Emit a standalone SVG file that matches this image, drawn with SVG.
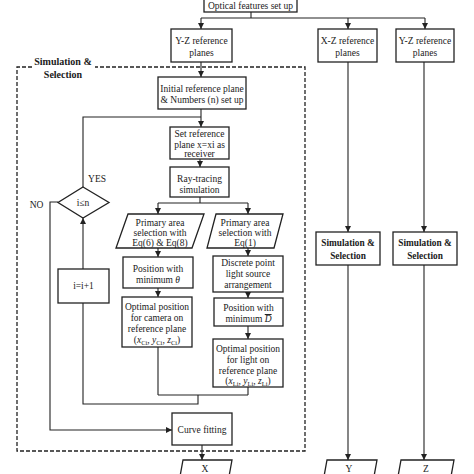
<svg xmlns="http://www.w3.org/2000/svg" width="474" height="474" viewBox="0 0 474 474">
<defs>
<marker id="ah" viewBox="0 0 10 10" refX="10" refY="5" markerWidth="6" markerHeight="6" markerUnits="userSpaceOnUse" orient="auto">
<path d="M0,0 L10,5 L0,10 Z" fill="#222"/>
</marker>
<style>
.b{fill:#fff;stroke:#222;stroke-width:1.3}
.t{font-family:"Liberation Serif","Times New Roman",serif;font-size:9.5px;fill:#1a1a1a;text-anchor:middle}
.bt{font-family:"Liberation Serif","Times New Roman",serif;font-size:10px;font-weight:bold;fill:#1a1a1a;text-anchor:middle}
.bs{font-size:9.3px}
.c{fill:none;stroke:#222;stroke-width:1.1}
.a{marker-end:url(#ah)}
.s{font-size:6.5px}
.i{font-style:italic}
</style>
</defs>
<rect width="474" height="474" fill="#fff"/>
<g id="sim-frame">
<path d="M32,67 H17 V451 H305 V67 H95" fill="none" stroke="#222" stroke-width="1.3" stroke-dasharray="4 2"/>
<text class="bt" x="63" y="65">Simulation &amp;</text>
<text class="bt" x="63" y="78">Selection</text>
</g>
<g id="connectors">
<path class="c" d="M251,12 V18 M201,18 H425"/>
<path class="c a" d="M201,18 V29"/>
<path class="c a" d="M348,18 V29"/>
<path class="c a" d="M425,18 V29"/>
<path class="c a" d="M201,62 V77"/>
<path class="c a" d="M201,109 V127"/>
<path class="c" d="M83,187 V117 H201"/>
<path class="c a" d="M200,159 V167"/>
<path class="c" d="M200,197 V203 M158,203 H248"/>
<path class="c a" d="M158,203 V214"/>
<path class="c a" d="M248,203 V214"/>
<path class="c a" d="M158,248 V257"/>
<path class="c a" d="M158,288 V297"/>
<path class="c a" d="M248,248 V256"/>
<path class="c a" d="M248,292 V298"/>
<path class="c a" d="M248,326 V339"/>
<path class="c" d="M158,347 V395 M248,387 V395 M158,395 H248 M198,395 V404 H83 V303"/>
<path class="c a" d="M83,269 V218"/>
<path class="c a" d="M58,202 H50 V430 H172"/>
<path class="c a" d="M202,445 V460"/>
<path class="c a" d="M348,62 V232"/>
<path class="c a" d="M424,62 V232"/>
<path class="c a" d="M348,265 V460"/>
<path class="c a" d="M424,265 V460"/>
</g>
<g id="optical">
<rect class="b" x="204" y="-3" width="93" height="15"/>
<text class="t" x="250.5" y="8.5">Optical features set up</text>
</g>
<g id="yz-left">
<rect class="b" x="171" y="29" width="61" height="33"/>
<text class="t" x="201.5" y="44">Y-Z reference</text>
<text class="t" x="201.5" y="55.5">planes</text>
</g>
<g id="xz">
<rect class="b" x="318" y="29" width="59" height="33"/>
<text class="t" x="347.5" y="44">X-Z reference</text>
<text class="t" x="347.5" y="55.5">planes</text>
</g>
<g id="yz-right">
<rect class="b" x="396" y="29" width="58" height="33"/>
<text class="t" x="425" y="44">Y-Z reference</text>
<text class="t" x="425" y="55.5">planes</text>
</g>
<g id="initial">
<rect class="b" x="158" y="77" width="88" height="32"/>
<text class="t" x="202" y="91.5">Initial reference plane</text>
<text class="t" x="202" y="102.5">&amp; Numbers (n) set up</text>
</g>
<g id="setref">
<rect class="b" x="170" y="127" width="59" height="32"/>
<text class="t" x="199.5" y="137">Set  reference</text>
<text class="t" x="199.5" y="147.5">plane x=xi as</text>
<text class="t" x="199.5" y="156.5">receiver</text>
</g>
<g id="raytrace">
<rect class="b" x="170" y="167" width="59" height="30"/>
<text class="t" x="199.5" y="182">Ray-tracing</text>
<text class="t" x="199.5" y="193">simulation</text>
</g>
<g id="primary-left">
<path class="b" d="M128,214 H204 L192,248 H116 Z"/>
<text class="t" x="160" y="225.5">Primary area</text>
<text class="t" x="160" y="236">selection  with</text>
<text class="t" x="160" y="245.5">Eq(6) &amp; Eq(8)</text>
</g>
<g id="primary-right">
<path class="b" d="M216,214 H283 L274,248 H207 Z"/>
<text class="t" x="245" y="225.5">Primary area</text>
<text class="t" x="245" y="236">selection  with</text>
<text class="t" x="245" y="245.5">Eq(1)</text>
</g>
<g id="min-theta">
<rect class="b" x="123" y="257" width="70" height="31"/>
<text class="t" x="158" y="271.5">Position with</text>
<text class="t" x="158" y="282.5">minimum <tspan class="i">θ</tspan></text>
</g>
<g id="discrete">
<rect class="b" x="213" y="256" width="70" height="36"/>
<text class="t" x="248" y="265.5">Discrete point</text>
<text class="t" x="248" y="277">light source</text>
<text class="t" x="248" y="288">arrangement</text>
</g>
<g id="min-d">
<rect class="b" x="214" y="298" width="69" height="28"/>
<text class="t" x="248.5" y="310.5">Position with</text>
<text class="t" x="248.5" y="322">minimum  <tspan class="i" text-decoration="overline">D</tspan></text>
</g>
<g id="opt-camera">
<rect class="b" x="122" y="297" width="70" height="50"/>
<text class="t" x="157" y="309.5">Optimal position</text>
<text class="t" x="157" y="320.5">for camera on</text>
<text class="t" x="157" y="331.5">reference plane</text>
<text class="t" x="157" y="343">(<tspan class="i">x</tspan><tspan class="s" dy="1.5">Ci</tspan><tspan dy="-1.5">, </tspan><tspan class="i">y</tspan><tspan class="s" dy="1.5">Ci</tspan><tspan dy="-1.5">, </tspan><tspan class="i">z</tspan><tspan class="s" dy="1.5">Ci</tspan><tspan dy="-1.5">)</tspan></text>
</g>
<g id="opt-light">
<rect class="b" x="213" y="339" width="70" height="48"/>
<text class="t" x="248" y="351.5">Optimal position</text>
<text class="t" x="248" y="362.5">for light on</text>
<text class="t" x="248" y="373.5">reference plane</text>
<text class="t" x="248" y="384">(<tspan class="i">x</tspan><tspan class="s" dy="1.5">Li</tspan><tspan dy="-1.5">, </tspan><tspan class="i">y</tspan><tspan class="s" dy="1.5">Li</tspan><tspan dy="-1.5">, </tspan><tspan class="i">z</tspan><tspan class="s" dy="1.5">Li</tspan><tspan dy="-1.5">)</tspan></text>
</g>
<g id="decision">
<path class="b" d="M83,187 L109,202.5 L83,218 L58,202.5 Z"/>
<text class="t" x="83" y="206">i≤n</text>
<text class="t" x="97" y="181.5">YES</text>
<text class="t" x="36.5" y="208">NO</text>
</g>
<g id="increment">
<rect class="b" x="58" y="269" width="51" height="34"/>
<text class="t" x="83.5" y="289">i=i+1</text>
</g>
<g id="curve">
<rect class="b" x="172" y="413" width="60" height="32"/>
<text class="t" x="202" y="432.5">Curve fitting</text>
</g>
<g id="sim-xz">
<rect class="b" x="316" y="232" width="64" height="33"/>
<text class="bt bs" x="348" y="246">Simulation &amp;</text>
<text class="bt bs" x="348" y="258.5">Selection</text>
</g>
<g id="sim-yz">
<rect class="b" x="393" y="232" width="64" height="33"/>
<text class="bt bs" x="425" y="246">Simulation &amp;</text>
<text class="bt bs" x="425" y="258.5">Selection</text>
</g>
<g id="out-x">
<path class="b" d="M183,460 H232 L228,482 H179 Z"/>
<text class="t" x="205" y="472">X</text>
</g>
<g id="out-y">
<path class="b" d="M327,460 H377 L373,482 H323 Z"/>
<text class="t" x="349" y="472">Y</text>
</g>
<g id="out-z">
<path class="b" d="M401,460 H454 L450,482 H397 Z"/>
<text class="t" x="426" y="472">Z</text>
</g>
</svg>
